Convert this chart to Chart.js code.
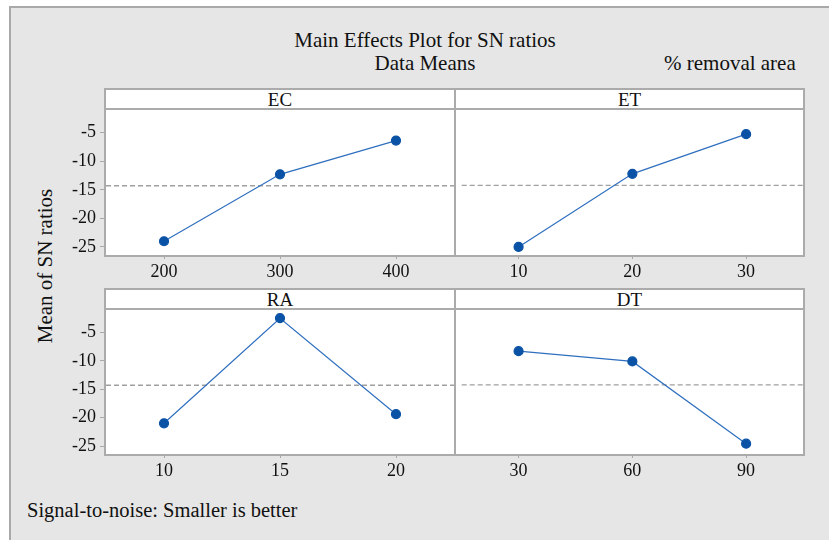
<!DOCTYPE html>
<html>
<head>
<meta charset="utf-8">
<script src="https://cdn.jsdelivr.net/npm/chart.js@4"></script>
<style>
body{margin:0;width:829px;height:540px;position:relative;background:#fff;overflow:hidden;font-family:"Liberation Serif","Times New Roman",serif;color:#111}
#bg{position:absolute;left:9px;top:6px;right:0;bottom:0;background:#e6e6e6;border-left:2px solid #a9a9a9;border-top:2px solid #a9a9a9}
.frame{position:absolute;left:104px;width:701px;box-sizing:border-box;border:2px solid #ababab;background:#fff}
.hline{position:absolute;left:0;right:0;top:18px;height:2px;background:#ababab}
.vline{position:absolute;left:348px;top:0;bottom:0;width:2px;background:#ababab}
.head{position:absolute;top:0;height:18px;line-height:19px;text-align:center;font-size:19px}
canvas{position:absolute}
.txt{position:absolute;white-space:nowrap;line-height:24px}
</style>
</head>
<body>
<div id="bg"></div>
<div class="txt" style="left:425px;top:28px;font-size:21px;transform:translateX(-50%)">Main Effects Plot for SN ratios</div>
<div class="txt" style="left:425px;top:51px;font-size:21px;transform:translateX(-50%)">Data Means</div>
<div class="txt" style="left:664px;top:51px;font-size:21px">% removal area</div>
<div class="txt" style="left:45px;top:266px;font-size:21px;transform:translate(-50%,-50%) rotate(-90deg)">Mean of SN ratios</div>
<div class="txt" style="left:27px;top:498px;font-size:20.5px">Signal-to-noise: Smaller is better</div>

<div class="frame" style="top:88px;height:169px">
  <div class="head" style="left:0;width:348px">EC</div>
  <div class="head" style="left:350px;width:347px">ET</div>
  <div class="hline"></div><div class="vline"></div>
</div>
<div class="frame" style="top:288px;height:168px">
  <div class="head" style="left:0;width:348px">RA</div>
  <div class="head" style="left:350px;width:347px">DT</div>
  <div class="hline"></div><div class="vline"></div>
</div>

<script>
// factor levels and mean SN ratios
var ecLevels = ["200", "300", "400"];
var ecMeans = [-24.0, -12.3, -6.4];
var etLevels = ["10", "20", "30"];
var etMeans = [-25.0, -12.3, -5.4];
var raLevels = ["10", "15", "20"];
var raMeans = [-21.0, -2.5, -19.4];
var dtLevels = ["30", "60", "90"];
var dtMeans = [-8.4, -10.2, -24.6];

var yTicks = [-25, -20, -15, -10, -5];
var grandMean = -14.3;

var LINE_COLOR = "#2f6fbf";
var POINT_COLOR = "#0a52a5";
var FRAME_GRAY = "#a8a8a8";

Chart.defaults.font.family = "'Liberation Serif', 'Times New Roman', serif";

var meanLine = {
  id: "meanLine",
  beforeDatasetsDraw: function(chart) {
    var ctx = chart.ctx, area = chart.chartArea;
    var y = chart.scales.y.getPixelForValue(grandMean);
    ctx.save();
    ctx.strokeStyle = "#a0a0a0";
    ctx.lineWidth = 1.3;
    ctx.setLineDash([5, 3]);
    ctx.beginPath();
    ctx.moveTo(area.left, y);
    ctx.lineTo(area.right, y);
    ctx.stroke();
    ctx.restore();
  }
};

function makePanel(levels, means, area, showY) {
  var padT = 14, padR = 10, xH = 32;
  var yW = showY ? 70 : 0;
  var cv = document.createElement("canvas");
  var w = area.right - area.left + yW + padR;
  var h = area.bottom - area.top + padT + xH;
  cv.style.left = (area.left - yW) + "px";
  cv.style.top = (area.top - padT) + "px";
  cv.style.width = w + "px";
  cv.style.height = h + "px";
  cv.width = w; cv.height = h;
  document.body.appendChild(cv);

  new Chart(cv, {
    type: "line",
    data: {
      labels: levels,
      datasets: [{
        data: means,
        borderColor: LINE_COLOR,
        borderWidth: 1.2,
        pointBackgroundColor: POINT_COLOR,
        pointBorderColor: POINT_COLOR,
        pointRadius: 4.5,
        tension: 0,
        clip: false
      }]
    },
    options: {
      responsive: false,
      animation: false,
      layout: {padding: {top: padT, right: padR, left: 0, bottom: 0}},
      plugins: {legend: {display: false}, tooltip: {enabled: false}},
      scales: {
        x: {
          type: "category",
          offset: true,
          border: {display: false},
          grid: {drawOnChartArea: false, drawTicks: true, tickLength: 4, color: FRAME_GRAY},
          ticks: {padding: 2, color: "#111", font: {size: 18}, maxRotation: 0},
          afterFit: function(s) { s.height = xH; }
        },
        y: {
          display: showY,
          min: -26.4,
          max: -1.2,
          border: {display: false},
          grid: {drawOnChartArea: false, drawTicks: true, tickLength: 6, color: FRAME_GRAY},
          ticks: {padding: 4, color: "#111", font: {size: 18}},
          afterBuildTicks: function(s) { s.ticks = yTicks.map(function(v) { return {value: v}; }); },
          afterFit: function(s) { s.width = yW; }
        }
      }
    },
    plugins: [meanLine]
  });
}

makePanel(ecLevels, ecMeans, {left: 106, right: 454, top: 110, bottom: 255}, true);
makePanel(etLevels, etMeans, {left: 456, right: 803, top: 110, bottom: 255}, false);
makePanel(raLevels, raMeans, {left: 106, right: 454, top: 310, bottom: 454}, true);
makePanel(dtLevels, dtMeans, {left: 456, right: 803, top: 310, bottom: 454}, false);
</script>
</body>
</html>
